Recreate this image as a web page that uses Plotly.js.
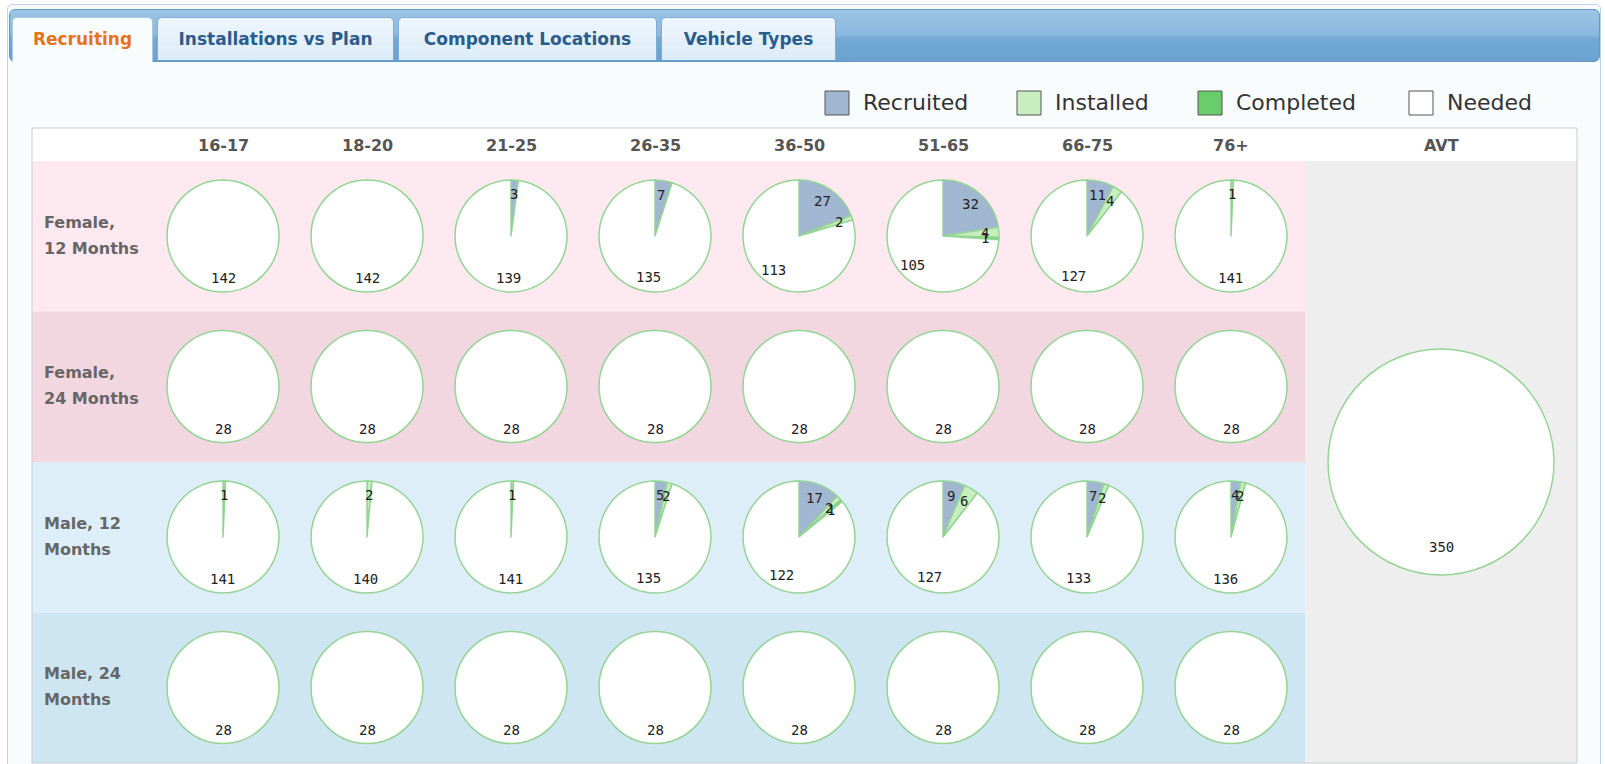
<!DOCTYPE html>
<html>
<head>
<meta charset="utf-8">
<script src="https://cdn.plot.ly/plotly-3.0.1.min.js"></script>
<style>
  html, body { margin:0; padding:0; width:1605px; height:764px; overflow:hidden; background:#ffffff; }
  #frame { position:absolute; left:7px; top:4px; width:1592px; height:780px; border:1px solid #bcd4ea; border-radius:5px; background:#f9fcfc; }
  #bar { position:absolute; left:9px; top:9px; width:1589px; height:51px; border:1px solid #5f97c9; border-radius:6px;
         background: linear-gradient(to bottom, #9cc5e5 0%, #8ab8de 48%, #74a9d4 56%, #6aa1cf 100%); }
  .tab { position:absolute; top:17px; height:43px; box-sizing:border-box; border:1px solid #7eaed8; border-bottom:none;
         border-radius:5px 5px 0 0; background: linear-gradient(to bottom, #eef6fd 0%, #dcecf8 100%);
         font-family:'DejaVu Sans',sans-serif; font-weight:bold; font-size:17px;
         color:#2b5c8c; text-align:center; line-height:42px; white-space:nowrap; }
  .tab.active { background:#f9fcfd; color:#e5731c; border-color:#a9c8e4; height:45px; }
  #chart { position:absolute; left:0; top:0; width:1605px; height:764px; }
</style>
</head>
<body>
<div id="frame"></div>
<div id="bar"></div>
<div class="tab active" style="left:12px;width:141px;">Recruiting</div>
<div class="tab" style="left:157px;width:237px;">Installations vs Plan</div>
<div class="tab" style="left:398px;width:259px;">Component Locations</div>
<div class="tab" style="left:661px;width:175px;">Vehicle Types</div>
<div id="chart"></div>
<script>
// ---------------- DATA ----------------
const ageGroups = ['16-17', '18-20', '21-25', '26-35', '36-50', '51-65', '66-75', '76+'];
const rowLabelLines = [['Female,', '12 Months'], ['Female,', '24 Months'], ['Male, 12', 'Months'], ['Male, 24', 'Months']];
const statuses = ['Recruited', 'Installed', 'Completed', 'Needed'];

const female12Recruited = [0, 0, 3, 7, 27, 32, 11, 0];
const female12Installed = [0, 0, 0, 0, 2, 4, 4, 1];
const female12Completed = [0, 0, 0, 0, 0, 1, 0, 0];
const female12Needed    = [142, 142, 139, 135, 113, 105, 127, 141];

const female24Recruited = [0, 0, 0, 0, 0, 0, 0, 0];
const female24Installed = [0, 0, 0, 0, 0, 0, 0, 0];
const female24Completed = [0, 0, 0, 0, 0, 0, 0, 0];
const female24Needed    = [28, 28, 28, 28, 28, 28, 28, 28];

const male12Recruited = [0, 0, 0, 5, 17, 9, 7, 4];
const male12Installed = [1, 2, 1, 2, 2, 6, 2, 2];
const male12Completed = [0, 0, 0, 0, 1, 0, 0, 0];
const male12Needed    = [141, 140, 141, 135, 122, 127, 133, 136];

const male24Recruited = [0, 0, 0, 0, 0, 0, 0, 0];
const male24Installed = [0, 0, 0, 0, 0, 0, 0, 0];
const male24Completed = [0, 0, 0, 0, 0, 0, 0, 0];
const male24Needed    = [28, 28, 28, 28, 28, 28, 28, 28];

const avtLabel = 'AVT';
const avtValues = [0, 0, 0, 350];

// ---------------- STYLE / LAYOUT ----------------
const W = 1605, H = 764;
const px = x => x / W;
const py = y => 1 - y / H;

const statusColors = ['#a1b6d0', '#c8eebf', '#69cd6b', '#ffffff'];
const pieLine = '#94d594';
const rowColors = ['#fde9ef', '#f3d7e0', '#ddeef8', '#cee5f2'];

const boxX0 = 32, boxX1 = 1577, boxY0 = 128, headerY1 = 161, boxY1 = 763;
const avtX0 = 1305;
const colX0 = 223, colStep = 144;
const rowH = (boxY1 - headerY1) / 4;
const smallR = 56;
const avtCx = 1441, avtCy = 462, avtR = 113;

const rows = [
  [female12Recruited, female12Installed, female12Completed, female12Needed],
  [female24Recruited, female24Installed, female24Completed, female24Needed],
  [male12Recruited, male12Installed, male12Completed, male12Needed],
  [male24Recruited, male24Installed, male24Completed, male24Needed]
];

const traces = [];
const annotations = [];
const shapes = [];

const labelFont = { family: 'DejaVu Sans Mono, monospace', size: 14, color: '#222222' };

function addPie(values, cx, cy, R) {
  traces.push({
    type: 'pie',
    values: values,
    labels: statuses,
    sort: false,
    direction: 'clockwise',
    rotation: 0,
    marker: { colors: statusColors, line: { color: pieLine, width: 1.5 } },
    textinfo: 'none',
    hoverinfo: 'label+value',
    showlegend: false,
    domain: { x: [px(cx - R), px(cx + R)], y: [py(cy + R), py(cy - R)] }
  });
  const total = values.reduce((a, b) => a + b, 0);
  let cum = 0;
  values.forEach(v => {
    if (v > 0) {
      const mid = (cum + v / 2) / total * 2 * Math.PI;
      annotations.push({
        xref: 'paper', yref: 'paper',
        x: px(cx + 0.75 * R * Math.sin(mid)),
        y: py(cy - 0.75 * R * Math.cos(mid)),
        xanchor: 'center', yanchor: 'middle',
        text: String(v), showarrow: false, font: labelFont
      });
    }
    cum += v;
  });
}

// backgrounds
shapes.push({ type: 'rect', layer: 'below', xref: 'paper', yref: 'paper',
  x0: px(boxX0), x1: px(boxX1), y0: py(boxY1), y1: py(boxY0), fillcolor: '#ffffff', line: { width: 0 } });
rows.forEach((r, j) => {
  shapes.push({ type: 'rect', layer: 'below', xref: 'paper', yref: 'paper',
    x0: px(boxX0), x1: px(avtX0), y0: py(headerY1 + (j + 1) * rowH), y1: py(headerY1 + j * rowH),
    fillcolor: rowColors[j], line: { width: 0 } });
});
shapes.push({ type: 'rect', layer: 'below', xref: 'paper', yref: 'paper',
  x0: px(avtX0), x1: px(boxX1), y0: py(boxY1), y1: py(headerY1), fillcolor: '#eeeeee', line: { width: 0 } });
shapes.push({ type: 'rect', layer: 'below', xref: 'paper', yref: 'paper',
  x0: px(boxX0), x1: px(boxX1), y0: py(boxY1), y1: py(boxY0), fillcolor: 'rgba(0,0,0,0)', line: { color: '#cccccc', width: 1 } });

// headers
const headFont = { family: 'DejaVu Sans, sans-serif', size: 16, color: '#555555' };
ageGroups.forEach((g, i) => {
  annotations.push({ xref: 'paper', yref: 'paper', x: px(colX0 + i * colStep), y: py(145),
    xanchor: 'center', yanchor: 'middle', text: '<b>' + g + '</b>', showarrow: false, font: headFont });
});
annotations.push({ xref: 'paper', yref: 'paper', x: px(avtCx), y: py(145),
  xanchor: 'center', yanchor: 'middle', text: '<b>' + avtLabel + '</b>', showarrow: false, font: headFont });

// row labels (two lines each, spaced like the reference)
const rowFont = { family: 'DejaVu Sans, sans-serif', size: 16, color: '#666666' };
rowLabelLines.forEach((lines, j) => {
  const cy = headerY1 + j * rowH + 74;
  lines.forEach((ln, k) => {
    annotations.push({ xref: 'paper', yref: 'paper', x: px(42), y: py(cy + (k - 0.5) * 26),
      xanchor: 'left', yanchor: 'middle', align: 'left', text: '<b>' + ln + '</b>', showarrow: false, font: rowFont });
  });
});

// pies
rows.forEach((r, j) => {
  ageGroups.forEach((g, i) => {
    addPie([r[0][i], r[1][i], r[2][i], r[3][i]], colX0 + i * colStep, headerY1 + j * rowH + 75, smallR);
  });
});
addPie(avtValues, avtCx, avtCy, avtR);

// legend
const legendX = [825, 1017, 1198, 1409];
const legendFont = { family: 'DejaVu Sans, sans-serif', size: 22, color: '#333333' };
statuses.forEach((s, k) => {
  shapes.push({ type: 'rect', layer: 'above', xref: 'paper', yref: 'paper',
    x0: px(legendX[k]), x1: px(legendX[k] + 24), y0: py(115), y1: py(91),
    fillcolor: statusColors[k], line: { color: '#555555', width: 1 } });
  annotations.push({ xref: 'paper', yref: 'paper', x: px(legendX[k] + 36), y: py(103),
    xanchor: 'left', yanchor: 'middle', text: s, showarrow: false, font: legendFont });
});

const layout = {
  width: W, height: H,
  margin: { l: 0, r: 0, t: 0, b: 0 },
  paper_bgcolor: 'rgba(0,0,0,0)',
  plot_bgcolor: 'rgba(0,0,0,0)',
  showlegend: false,
  shapes: shapes,
  annotations: annotations
};

Plotly.newPlot('chart', traces, layout, { displayModeBar: false });
</script>
</body>
</html>
